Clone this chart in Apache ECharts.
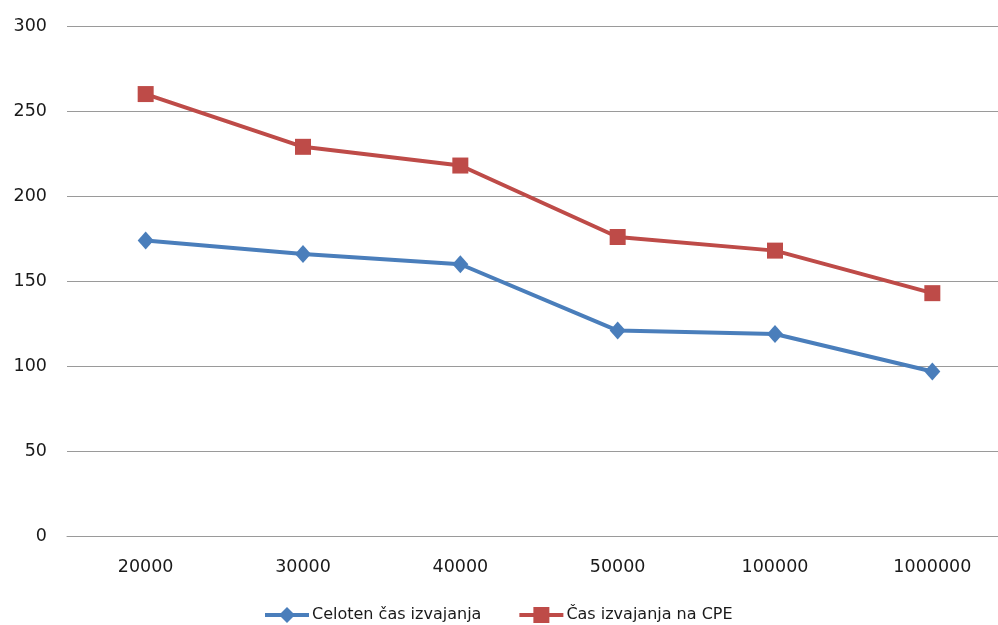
<!DOCTYPE html>
<html>
<head>
<meta charset="utf-8">
<script src="https://cdn.jsdelivr.net/npm/echarts@6/dist/echarts.min.js"></script>
<style>
  html, body { margin: 0; padding: 0; background: #fff; }
  #chart { width: 998px; height: 625px; }
</style>
</head>
<body>
<div id="chart"></div>
<script>
// Problem sizes on the category axis
const categories = ['20000', '30000', '40000', '50000', '100000', '1000000'];
// Total execution time
const totalTime = [174, 166, 160, 121, 119, 97];
// Execution time on the CPU
const cpuTime = [260, 229, 218, 176, 168, 143];
// Value axis ticks
const yMin = 0, yMax = 300, yStep = 50;

const seriesNames = ['Celoten čas izvajanja', 'Čas izvajanja na CPE'];
const fontFamily = '"DejaVu Sans", Verdana, sans-serif';

const chart = echarts.init(document.getElementById('chart'), null, { renderer: 'canvas' });
chart.setOption({
  animation: false,
  backgroundColor: '#ffffff',
  // the plot runs a little past the right edge of the canvas
  grid: { left: 67, top: 26, width: 944, height: 510.5, outerBoundsMode: 'none' },
  legend: {
    left: 258,
    top: 602,
    itemWidth: 44,
    itemHeight: 20,
    itemGap: 36,
    lineStyle: { width: 4 },
    textStyle: { fontFamily, fontSize: 16, color: '#1a1a1a', padding: [0, 0, 0, -2] },
    data: seriesNames
  },
  xAxis: {
    type: 'category',
    data: categories,
    boundaryGap: true,
    axisLine: { show: true, lineStyle: { color: '#9a9a9a', width: 1 } },
    axisTick: { show: false },
    axisLabel: { fontFamily, fontSize: 17.5, color: '#1a1a1a', margin: 22 },
    splitLine: { show: false }
  },
  yAxis: {
    type: 'value',
    min: yMin,
    max: yMax,
    interval: yStep,
    axisLine: { show: false },
    axisTick: { show: false },
    axisLabel: { fontFamily, fontSize: 17.5, color: '#1a1a1a', margin: 20 },
    splitLine: { show: true, lineStyle: { color: '#9a9a9a', width: 1 } }
  },
  series: [
    {
      name: seriesNames[0],
      type: 'line',
      data: totalTime,
      symbol: 'diamond',
      symbolSize: [16, 18],
      color: '#4a7ebb',
      lineStyle: { width: 4, color: '#4a7ebb' },
      itemStyle: { color: '#4a7ebb' }
    },
    {
      name: seriesNames[1],
      type: 'line',
      data: cpuTime,
      symbol: 'rect',
      symbolSize: 16,
      color: '#be4b48',
      lineStyle: { width: 4, color: '#be4b48' },
      itemStyle: { color: '#be4b48' }
    }
  ]
});
</script>
</body>
</html>
